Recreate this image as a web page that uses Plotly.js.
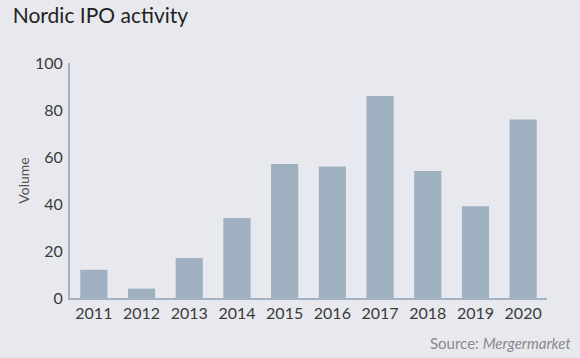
<!DOCTYPE html>
<html>
<head>
<meta charset="utf-8">
<script src="https://cdn.plot.ly/plotly-3.0.1.min.js"></script>
<style>
  html, body { margin: 0; padding: 0; background: #e8e9ee; }
  #chart { width: 580px; height: 358px; }
</style>
</head>
<body>
<div id="chart"></div>
<script>
const years = ['2011','2012','2013','2014','2015','2016','2017','2018','2019','2020'];
const volume = [12, 4, 17, 34, 57, 56, 86, 54, 39, 76];
const yTicks = [0, 20, 40, 60, 80, 100];

const bg = '#e8e9ee';
const barColor = '#9fb0c1';
const font = 'Lato, "Open Sans", sans-serif';

const trace = {
  type: 'bar',
  x: years,
  y: volume,
  marker: { color: barColor },
  hoverinfo: 'x+y'
};

const layout = {
  width: 580,
  height: 358,
  paper_bgcolor: bg,
  plot_bgcolor: bg,
  margin: { l: 70, r: 33, t: 63, b: 60 },
  bargap: 0.43,
  showlegend: false,
  font: { family: font, color: '#3a3a3a', size: 16 },
  title: {
    text: 'Nordic IPO activity',
    x: 0.022, xanchor: 'left', xref: 'container',
    y: 0.955, yanchor: 'middle', yref: 'container',
    font: { family: font, size: 21, color: '#222222' }
  },
  xaxis: {
    type: 'category',
    showline: true, linecolor: '#a3b3c3', linewidth: 2,
    showgrid: false, zeroline: false,
    ticks: '', ticklabelstandoff: 0,
    tickfont: { family: font, size: 16, color: '#3a3a3a' }
  },
  yaxis: {
    range: [0, 100],
    tickvals: yTicks,
    showline: true, linecolor: '#a3b3c3', linewidth: 2,
    showgrid: false, zeroline: false,
    ticks: '', ticklabelstandoff: 2,
    tickfont: { family: font, size: 16, color: '#3a3a3a' },
    title: { text: 'Volume', standoff: 2, font: { family: font, size: 14, color: '#555555' } }
  },
  annotations: [{
    text: 'Source: <i>Mergermarket</i>',
    xref: 'paper', yref: 'paper',
    x: 1.055, y: -0.19,
    xanchor: 'right', yanchor: 'middle',
    showarrow: false,
    font: { family: font, size: 15, color: '#8a8a8a' }
  }]
};

Plotly.newPlot('chart', [trace], layout, { displayModeBar: false, staticPlot: true });
</script>
</body>
</html>
